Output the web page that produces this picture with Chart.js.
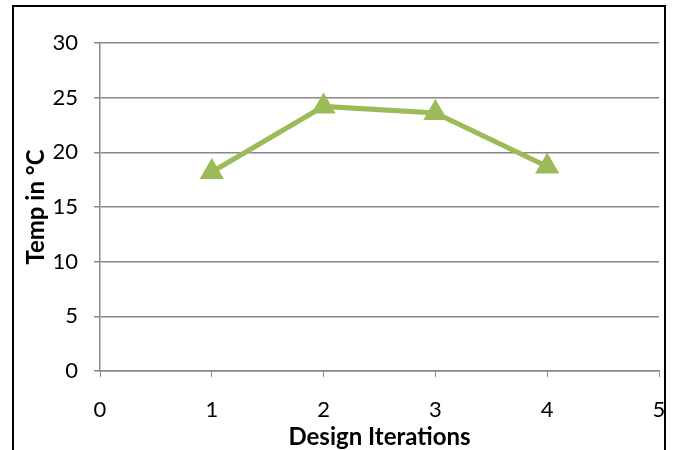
<!DOCTYPE html>
<html>
<head>
<meta charset="utf-8">
<script src="https://cdn.jsdelivr.net/npm/chart.js@4"></script>
<style>
  html, body { margin: 0; padding: 0; background: #fff; overflow: hidden; }
  #wrap { position: relative; width: 680px; height: 450px; }
  #frame { position: absolute; left: 12px; top: 5px; width: 654px; height: 470px; border: 2px solid #000; box-sizing: border-box; pointer-events: none; }
  canvas { position: absolute; left: 0; top: 0; }
</style>
</head>
<body>
<div id="wrap">
  <canvas id="c" width="680" height="450"></canvas>
  <div id="frame"></div>
</div>
<script>
// Temperature per design iteration
const iterations = [1, 2, 3, 4];
const temps = [18.2, 24.2, 23.6, 18.7];
const xTicks = [0, 1, 2, 3, 4, 5];
const yTicks = [0, 5, 10, 15, 20, 25, 30];

const points = iterations.map((x, i) => ({ x: x, y: temps[i] }));
const tickFont = { family: 'Lato, "Open Sans", sans-serif', size: 22 };
const titleFont = { family: 'Lato, "Open Sans", sans-serif', size: 24, weight: 'bold' };

new Chart(document.getElementById('c'), {
  type: 'scatter',
  data: {
    datasets: [{
      data: points,
      showLine: true,
      borderColor: '#9BBB59',
      backgroundColor: '#9BBB59',
      borderWidth: 5,
      pointStyle: 'triangle',
      pointRadius: 9,
      pointHoverRadius: 9,
      tension: 0
    }]
  },
  options: {
    responsive: false,
    animation: false,
    devicePixelRatio: 1,
    layout: { padding: { left: 0, top: 43, right: 21, bottom: 0 } },
    plugins: { legend: { display: false }, tooltip: { enabled: false } },
    scales: {
      x: {
        type: 'linear',
        min: 0, max: 5,
        afterBuildTicks: s => { s.ticks = xTicks.map(v => ({ value: v })); },
        afterFit: s => { s.height = 79; s.paddingLeft = 0; s.paddingRight = 0; },
        ticks: { color: '#000', font: tickFont, padding: 20 },
        grid: { drawOnChartArea: false, drawTicks: true, tickLength: 6, color: '#888' },
        border: { color: '#888', width: 1.5 },
        title: { display: true, text: 'Design Iterations', color: '#000', font: titleFont, padding: { top: 0, bottom: -2 } }
      },
      y: {
        min: 0, max: 30,
        afterBuildTicks: s => { s.ticks = yTicks.map(v => ({ value: v })); },
        afterFit: s => { s.width = 100; s.paddingTop = 0; s.paddingBottom = 0; },
        ticks: { color: '#000', font: tickFont, padding: 16 },
        grid: { drawTicks: true, tickLength: 6, color: '#888', lineWidth: 1.5 },
        border: { color: '#888', width: 1.5 },
        title: { display: true, text: 'Temp in °C', color: '#000', font: titleFont, padding: { top: 22, bottom: 0 } }
      }
    }
  }
});
</script>
</body>
</html>
